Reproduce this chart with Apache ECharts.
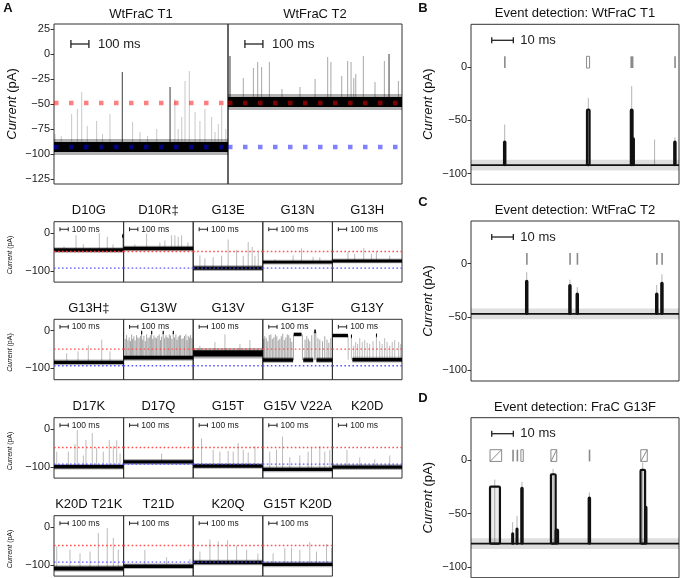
<!DOCTYPE html>
<html><head><meta charset="utf-8">
<script src="https://cdn.jsdelivr.net/npm/echarts@6/dist/echarts.min.js"></script>
<style>html,body{margin:0;padding:0;background:#fff}#c{width:681px;height:578px}</style>
</head><body><div id="c"></div>
<script>
// ---------------- DATA ----------------
const refLevels = [-49, -93];            // red (WtFraC T2 level), blue (WtFraC T1 level), pA
const topTitles = ['WtFraC T1', 'WtFraC T2'];
const topBase = [-93, -48];
const t1Spikes = [[6,-80],[40,-82],[98,-60],[130,-55],[154,-38],[185,-72],[237,-67],[270,-80],[311,-60],[437,-68],[478,-78],[520,-82],[571,-75],[672,-45],[690,-75],[710,-63],[728,-27],[752,-17],[784,-58],[811,-67],[839,-55],[876,-63],[895,-78],[913,-70],[932,-52],[955,-75]];
const t1DarkSpikes = [[380,-18],[645,-33]];
const t2Spikes = [[85,-24],[141,-14],[165,-8],[187,-13],[230,-8],[300,-35],[400,-33],[484,-25],[554,-3],[572,-8],[632,-22],[665,-7],[684,-8],[699,-24],[710,-20],[752,-2],[817,-28],[869,-7],[947,-27]];
const t2DarkSpikes = [[11,-2],[895,0]];

const smallTitles = ['D10G','D10R\u2021','G13E','G13N','G13H','G13H\u2021','G13W','G13V','G13F','G13Y','D17K','D17Q','G15T','G15V V22A','K20D','K20D T21K','T21D','K20Q','G15T K20D'];
const smallBase = [-45,-41,-93,-77,-74, -84,-72,-60,-78,-77, -100,-87,-98,-107,-101, -110,-104,-94,-99];
const smallNoise = [6,6,6,5,5, 6,6,11,6,6, 6,6,6,6,6, 7,6,6,6];
const smallSpikes = [
  [[121,-35],[266,-6],[354,-30],[435,-40],[547,0],[643,-10],[712,-30],[829,-10]],
  [[136,-30],[278,-2],[438,-25],[498,-20],[579,-6],[619,-6],[659,-10],[700,-6],[776,-25]],
  [[81,-59],[141,-67],[241,-64],[343,-60],[422,-17],[524,-45],[604,-60],[664,-24],[712,-37],[745,-60],[785,-50]],
  [[145,-70],[366,-59],[467,-41],[607,-63],[688,-64]],
  [[188,-50],[269,-55],[378,-40],[471,-55],[531,-50],[692,-60]],
  [[153,-60],[290,-55],[414,-39],[576,-24],[676,-55]],
  [[20,-22],[36,-12],[52,-25],[68,-18],[83,-28],[97,-10],[110,-22],[124,-15],[140,-26],[157,-12],[172,-18],[188,-20],[203,-14],[217,-5],[230,-24],[245,-14],[262,-28],[278,-10],[294,-20],[309,-18],[323,-12],[338,-5],[352,-22],[366,-13],[382,-18],[398,-20],[414,-14],[430,-10],[445,-25],[459,-16],[478,-5],[495,-20],[511,-12],[525,-17],[538,-20],[552,-10],[567,-13],[583,-22],[599,-5],[615,-18],[631,-10],[645,-24],[659,-16],[674,-13],[688,-12],[704,-22],[719,-20],[735,-14],[752,-10],[766,-25],[780,-14],[795,-18],[809,-12],[825,-20]],
  [[81,-40],[262,-30],[383,-10],[564,-35],[684,-25]],
  [[12,-22],[24,-15],[42,-20],[60,-28],[78,-12],[97,-10],[115,-22],[133,-18],[151,-10],[169,-15],[187,-26],[205,-22],[223,-15],[241,-8],[260,-25],[278,-18],[296,-10],[314,-12],[332,-20],[350,-30],[370,-10],[478,-10],[510,-24],[531,-15],[550,-22],[567,-28],[591,-12],[622,-2],[640,-2],[665,-20],[688,-24],[720,-28],[748,-15],[775,-24],[797,-32],[820,-20]],
  [[190,-13],[229,-15],[258,-40],[281,-30],[305,-35],[330,-20],[360,-30],[390,-25],[420,-32],[450,-35],[490,-28],[531,-12],[571,-28],[600,-35],[631,-20],[660,-30],[692,-40],[722,-30],[752,-25],[800,-30],[825,-35]],
  [[33,-60],[173,-60],[253,-40],[281,-3],[354,-70],[386,-29],[462,-11],[515,-50],[595,-60],[667,-29],[716,-45],[757,-30],[797,-65]],
  [[459,-65]],
  [[101,-25],[241,-55],[322,-60],[422,-58],[483,-60],[543,-37],[604,-55],[664,-62],[745,-45]],
  [[84,-60],[165,-55],[238,-20],[326,-75],[447,-70],[547,-60],[588,-50],[688,-45],[748,-60],[809,-55]],
  [[176,-55],[330,-75],[511,-80],[692,-70]],
  [[33,-51],[193,-60],[314,-70],[435,-65],[535,-16],[643,-3],[716,-29],[776,-60]],
  [[257,-60],[519,-80],[800,-85]],
  [[81,-65],[202,-33],[302,-38],[415,-35],[524,-50],[645,-60],[781,-70]],
  [[124,-70],[266,-55],[346,-55],[447,-60],[567,-40],[648,-65],[769,-45],[829,-55]]
];
const smallBlocks = [
  [[822,836,-8]],[],[],[],[],
  [],[[212,224,-5],[333,345,-5],[472,484,-5],[594,606,-5]],[],[[374,467,-10],[622,640,-2]],[[0,188,-13],[224,236,-15],[526,538,-12]],
  [],[],[],[],[],
  [],[],[],[]
];
const smallGaps = [
  [],[],[],[],[],
  [],[],[],[[366,488],[608,648]],[[0,241]],
  [],[],[],[],[],
  [],[],[],[]
];

const detTitles = ['Event detection: WtFraC T1','Event detection: WtFraC T2','Event detection: FraC G13F'];
const detBase = [-92, -47, -78];
// events: [t0, level0, t1, level1, ..., tEnd] (ms, pA)
const bEvents = [[15.3,-70,15.9],[53.7,-40,54.9],[74.0,-40,74.8,-67,75.4],[94.1,-70,94.7]];
const cEvents = [[25.5,-16,26.1],[45.5,-20,46.1],[48.9,-28,49.5],[85.7,-28,86.3],[88.1,-18,88.7]];
const dEvents = [[8.8,-24.7,13.4],[19.1,-68.5,19.5],[21.1,-64,21.5],[23.3,-25.7,23.9],[37.0,-13,39.2,-65,40.3],[54.5,-35,55.1],[78.5,-9,80.6,-43.5,81.2]];
const bHairs = [[15.6,-54],[54.3,-29],[74.4,-18],[85,-68],[94.4,-66]];
const cHairs = [[25.8,-8],[45.8,-15],[49.2,-22],[86,-20],[88.4,-10]];
const dHairs = [[11,-18],[19.3,-58],[21.3,-52],[23.6,-20],[38,-8],[54.8,-30],[79.5,-2]];
// markers: [t0, t1, kind]  kind 0 = bar, 1 = box, 2 = hatched box
const bMarks = [[15.3,15.9,0],[53.5,54.9,1],[73.8,75.2,0],[94.1,94.7,0]];
const cMarks = [[25.5,26.1,0],[45.5,46.1,0],[48.9,49.5,0],[85.7,86.3,0],[88.1,88.7,0]];
const dMarks = [[8.8,14.2,2],[19.1,19.5,0],[21.1,21.5,0],[23.1,24.2,1],[37.0,39.7,2],[54.5,55.1,0],[78.6,81.6,2]];

const topTicks = [-125,-100,-75,-50,-25,0,25];
const smallTicks = [-100, 0];
const detTicks = [-100, -50, 0];

// ---------------- BUILD ----------------
const FONT = '"Liberation Sans", Arial, Helvetica, sans-serif';
const minus = v => String(v).replace('-', '\u2212');
const grids = [], xAxes = [], yAxes = [], series = [], graphics = [];

function addGrid(rect, xmax, ymin, ymax, ticks, showY) {
  const i = grids.length;
  grids.push({left: rect[0], top: rect[1], width: rect[2], height: rect[3], show: true,
    borderColor: '#333', borderWidth: 1, backgroundColor: 'transparent', containLabel: false, outerBoundsMode: 'none'});
  xAxes.push({type: 'value', gridIndex: i, min: 0, max: xmax, show: false});
  yAxes.push({type: 'value', gridIndex: i, min: ymin, max: ymax, show: showY,
    axisLine: {show: false}, splitLine: {show: false},
    axisTick: {show: true, customValues: ticks, length: 3.5, lineStyle: {color: '#333', width: 1}},
    axisLabel: {show: true, customValues: ticks, formatter: minus, color: '#222', fontSize: 11, fontFamily: FONT, margin: 4}});
  return i;
}
const common = (gi, z) => ({xAxisIndex: gi, yAxisIndex: gi, z, silent: true, animation: false});

function spikeSeries(gi, base, data, color, width, z) {
  series.push(Object.assign(common(gi, z), {type: 'custom', data, encode: {x: 0, y: 1},
    renderItem: (p, api) => {
      const a = api.coord([api.value(0), base]), b = api.coord([api.value(0), api.value(1)]);
      return {type: 'line', shape: {x1: a[0], y1: a[1], x2: b[0], y2: b[1]}, style: {stroke: color, lineWidth: width}};
    }}));
}
function bandSeries(gi, segs, core, fuzz, fuzzColor, z) {
  series.push(Object.assign(common(gi, z), {type: 'custom', data: segs, encode: {x: [0, 1], y: 2},
    renderItem: (p, api) => {
      const t0 = api.value(0), t1 = api.value(1), l = api.value(2);
      const a = api.coord([t0, l + fuzz]), b = api.coord([t1, l - fuzz]);
      const c = api.coord([t0, l + core]), d = api.coord([t1, l - core]);
      const ch = [{type: 'rect', shape: {x: a[0], y: a[1], width: b[0] - a[0], height: b[1] - a[1]}, style: {fill: fuzzColor}}];
      if (core > 0) ch.push({type: 'rect', shape: {x: c[0], y: c[1], width: d[0] - c[0], height: d[1] - c[1]}, style: {fill: '#000'}});
      return {type: 'group', children: ch};
    }}));
}
function refLine(gi, xmax, lvl, color, width, dash, z) {
  series.push(Object.assign(common(gi, z), {type: 'line', data: [[0, lvl], [xmax, lvl]], symbol: 'none',
    lineStyle: {color, width, type: dash, cap: 'butt'}}));
}
function scaleBar(gi, x0, len, y, cap, gap, fs, lw) {
  series.push(Object.assign(common(gi, 8), {type: 'custom', data: [[x0, y]], encode: {x: 0, y: 1},
    renderItem: (p, api) => {
      const a = api.coord([x0, y]), b = api.coord([x0 + len, y]);
      const st = {stroke: '#222', lineWidth: lw};
      return {type: 'group', children: [
        {type: 'line', shape: {x1: a[0], y1: a[1], x2: b[0], y2: b[1]}, style: st},
        {type: 'line', shape: {x1: a[0], y1: a[1] - cap, x2: a[0], y2: a[1] + cap}, style: st},
        {type: 'line', shape: {x1: b[0], y1: b[1] - cap, x2: b[0], y2: b[1] + cap}, style: st},
        {type: 'text', x: b[0] + gap, y: b[1], style: {text: len + ' ms', fontSize: fs, fontFamily: FONT, fill: '#222', align: 'left', verticalAlign: 'middle'}}
      ]};
    }}));
}
function eventRects(gi, base, xmax, events) {
  series.push(Object.assign(common(gi, 3), {type: 'line', data: [[0, base], [xmax, base]], symbol: 'none',
    lineStyle: {color: '#111', width: 1.8}}));
  const segs = [];
  events.forEach(ev => { for (let k = 0; k + 2 < ev.length; k += 2) segs.push([ev[k], ev[k + 2], ev[k + 1]]); });
  series.push(Object.assign(common(gi, 4), {type: 'custom', data: segs, encode: {x: [0, 1], y: 2},
    renderItem: (p, api) => {
      const a = api.coord([api.value(0), api.value(2)]), b = api.coord([api.value(1), base]);
      return {type: 'rect', shape: {x: a[0], y: a[1], width: b[0] - a[0], height: b[1] - a[1], r: 1},
        style: {fill: 'rgba(0,0,0,0.08)', stroke: '#111', lineWidth: 2.2}};
    }}));
}
function markSeries(gi, marks) {
  series.push(Object.assign(common(gi, 6), {type: 'custom', data: marks, encode: {x: [0, 1]},
    renderItem: (p, api) => {
      const k = api.value(2);
      const a = api.coord([api.value(0), 10]), b = api.coord([api.value(1), -1]);
      let w = b[0] - a[0]; if (w < 1.6) w = 1.6;
      const h = b[1] - a[1];
      if (k === 0) return {type: 'rect', shape: {x: a[0], y: a[1], width: w, height: h}, style: {fill: '#8a8a8a'}};
      const ch = [{type: 'rect', shape: {x: a[0], y: a[1], width: w, height: h}, style: {fill: 'none', stroke: '#8a8a8a', lineWidth: 1}}];
      if (k === 2) ch.push({type: 'line', shape: {x1: a[0], y1: b[1], x2: a[0] + w, y2: a[1]}, style: {stroke: '#8a8a8a', lineWidth: 1}});
      return {type: 'group', children: ch};
    }}));
}
function txt(x, y, text, size, opts) {
  opts = opts || {};
  graphics.push({type: 'text', x, y, rotation: opts.rot || 0, z: 20, silent: true,
    style: {text, fontSize: size, fontFamily: FONT, fontWeight: opts.bold ? 'bold' : 'normal', fill: '#111',
      align: 'center', verticalAlign: 'middle', rich: opts.rich}});
}
function ylabel(x, y, size) {
  txt(x, y, '{i|Current} (pA)', size, {rot: Math.PI / 2,
    rich: {i: {fontStyle: 'italic', fontSize: size, fontFamily: FONT, fill: '#111'}}});
}

// ----- Panel A top -----
const TOPX = 967;
[0, 1].forEach(k => {
  const gi = addGrid([54 + 174 * k, 24, 174, 160], TOPX, -130, 30, topTicks, k === 0);
  const sp = k === 0 ? t1Spikes : t2Spikes, dk = k === 0 ? t1DarkSpikes : t2DarkSpikes;
  spikeSeries(gi, topBase[k], sp, k === 0 ? 'rgba(0,0,0,0.22)' : 'rgba(0,0,0,0.35)', 1, 1);
  spikeSeries(gi, topBase[k], dk, 'rgba(0,0,0,0.6)', 1.3, 3);
  bandSeries(gi, [[0, TOPX, topBase[k]]], 5, 8, 'rgba(0,0,0,0.3)', 2);
  refLine(gi, TOPX, refLevels[0], 'rgba(255,0,0,0.5)', 4.5, [4.5, 10.5], 5);
  refLine(gi, TOPX, refLevels[1], 'rgba(0,0,255,0.5)', 4.5, [4.5, 10.5], 5);
  scaleBar(gi, 94, 100, 10, 4, 9, 13, 1.3);
  txt(141 + 174 * k, 14, topTitles[k], 13);
});
ylabel(12, 104, 13);

// ----- Panel A small -----
const SX = 840, rowTops = [221.7, 319.3, 417.7, 515.7], SW = 69.6, SH = 60.4;
smallTitles.forEach((name, i) => {
  const r = Math.floor(i / 5), c = i % 5;
  const gi = addGrid([54 + SW * c, rowTops[r], SW, SH], SX, -130, 30, smallTicks, c === 0);
  const base = smallBase[i];
  spikeSeries(gi, base, smallSpikes[i], i === 6 || i === 8 ? 'rgba(0,0,0,0.4)' : 'rgba(0,0,0,0.3)', 0.9, 1);
  const segs = []; let s = 0;
  smallGaps[i].forEach(g => { if (g[0] > s) segs.push([s, g[0], base]); s = g[1]; });
  if (s < SX) segs.push([s, SX, base]);
  bandSeries(gi, segs, smallNoise[i] * 0.75, smallNoise[i] * 1.25, 'rgba(0,0,0,0.3)', 2);
  if (smallBlocks[i].length) bandSeries(gi, smallBlocks[i], 4, 6, 'rgba(0,0,0,0.3)', 2);
  refLine(gi, SX, refLevels[0], 'rgba(255,70,70,0.95)', 1.4, [1.6, 2.4], 5);
  refLine(gi, SX, refLevels[1], 'rgba(80,80,255,0.95)', 1.4, [1.6, 2.4], 5);
  scaleBar(gi, 72, 100, 10, 2, 3.5, 8.5, 1);
  txt(54 + SW * (c + 0.5), rowTops[r] - 11, name, 13);
});
rowTops.forEach(t => ylabel(10, t + SH / 2 + 3, 7));

// ----- Panels B, C, D -----
const DX = 96.3, detTops = [24.3, 221, 417.7];
const detEvents = [bEvents, cEvents, dEvents], detHairs = [bHairs, cHairs, dHairs], detMarks = [bMarks, cMarks, dMarks];
[0, 1, 2].forEach(k => {
  const gi = addGrid([471, detTops[k], 208, 160], DX, -110, 40, detTicks, true);
  spikeSeries(gi, detBase[k], detHairs[k], 'rgba(0,0,0,0.3)', 1, 1);
  bandSeries(gi, [[0, DX, detBase[k]]], 0, 5, 'rgba(0,0,0,0.13)', 2);
  eventRects(gi, detBase[k], DX, detEvents[k]);
  markSeries(gi, detMarks[k]);
  scaleBar(gi, 9.6, 10, 25, 3, 7, 13, 1.3);
  txt(575, detTops[k] - 10.5, detTitles[k], 13);
  ylabel(428, detTops[k] + 80, 13);
});

// panel letters
txt(8, 8, 'A', 13, {bold: true});
txt(423, 8, 'B', 13, {bold: true});
txt(423, 202, 'C', 13, {bold: true});
txt(423, 398, 'D', 13, {bold: true});

const chart = echarts.init(document.getElementById('c'), null, {renderer: 'canvas'});
chart.setOption({animation: false, backgroundColor: '#fff', grid: grids, xAxis: xAxes, yAxis: yAxes, series, graphic: graphics});
</script></body></html>
